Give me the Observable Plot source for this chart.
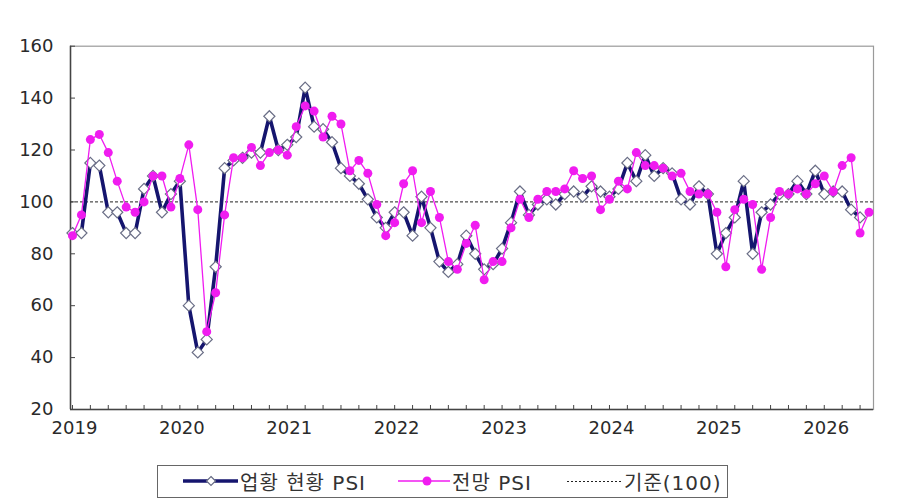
<!DOCTYPE html>
<html><head><meta charset="utf-8">
<script src="https://cdn.jsdelivr.net/npm/d3@7"></script>
<script src="https://cdn.jsdelivr.net/npm/@observablehq/plot@0.6"></script>
<style>
body{margin:0;background:#fff;width:900px;height:501px;overflow:hidden;position:relative;font-family:"DejaVu Sans","Noto Sans CJK KR",sans-serif;}
#legend{position:absolute;left:157px;top:465px;width:571px;height:33px;border:1.5px solid #666;box-sizing:border-box;font-family:"DejaVu Sans","Noto Sans CJK KR",sans-serif;font-size:20px;letter-spacing:1px;color:#333;}
#legend .item{position:absolute;top:0;height:30px;display:flex;align-items:center;white-space:nowrap;}
#legend svg{display:block;margin-right:2px;}
</style></head><body>
<div id="chart"></div>
<div id="legend"></div>
<script>
// Monthly series, starting January 2019
const yearLabels = ["2019","2020","2021","2022","2023","2024","2025","2026"];
const currentPSI = [
  88, 88, 115, 114, 96, 96, 88, 88, 105, 110, 96, 103,
  108, 60, 42, 47, 75, 113, 116, 117, 119, 119, 133, 120,
  122, 125, 144, 129, 128, 123, 113, 110, 107, 101, 94, 90,
  96, 96, 87, 102, 90, 77, 73, 76, 87, 80, 74, 76,
  82, 92, 104, 95, 99, 101, 99, 103, 104, 102, 106, 104,
  102, 105, 115, 108, 118, 110, 113, 111, 101, 99, 106, 103,
  80, 88, 94, 108, 80, 96, 99, 103, 103, 108, 103, 112,
  103, 104, 104, 97, 94
];
const outlookPSI = [
  87, 95, 124, 126, 119, 108, 98, 96, 100, 110, 110, 98,
  109, 122, 97, 50, 65, 95, 117, 117, 121, 114, 119, 120,
  118, 129, 137, 135, 125, 133, 130, 112, 116, 111, 99, 87,
  92, 107, 112, 92, 104, 94, 77, 74, 84, 91, 70, 77,
  77, 90, 101, 94, 101, 104, 104, 105, 112, 109, 110, 97,
  101, 108, 105, 119, 114, 114, 113, 110, 111, 104, 103, 103,
  96, 75, 97, 101, 99, 74, 94, 104, 103, 105, 103, 107,
  110, 104, 114, 117, 88, 96
];
const seriesNames = ["업황 현황 PSI", "전망 PSI", "기준(100)"];
const baseline = 100;
const yTicks = [20, 40, 60, 80, 100, 120, 140, 160];

const colNavy = "#15156e", colMag = "#f01cf0";
const cur = currentPSI.map((v, i) => ({i, v}));
const out = outlookPSI.map((v, i) => ({i, v}));
const yearIdx = yearLabels.map((d, k) => k * 12);
const minorIdx = d3.range(0, 90, 2);

const chart = Plot.plot({
  width: 900, height: 450,
  marginLeft: 70, marginRight: 27, marginTop: 45.7, marginBottom: 41,
  x: {domain: [-0.22, 89.5]},
  y: {domain: [20, 160]},
  style: {fontFamily: "DejaVu Sans, sans-serif", fontSize: "18px", color: "#2a2a2a", background: "white"},
  marks: [
    Plot.frame({stroke: "#9a9a9a", strokeWidth: 1.2}),
    Plot.ruleY([20], {stroke: "#444", strokeWidth: 1.5}),
    Plot.ruleX([-0.22], {stroke: "#444", strokeWidth: 1.5}),
    Plot.ruleY([baseline], {stroke: "#222", strokeWidth: 1, strokeDasharray: "3,2"}),
    Plot.line(cur, {x: "i", y: "v", stroke: colNavy, strokeWidth: 3.6}),
    Plot.dot(cur, {x: "i", y: "v", symbol: "diamond2", r: 5, fill: "white", stroke: "#6a6e86", strokeWidth: 1.2}),
    Plot.line(out, {x: "i", y: "v", stroke: colMag, strokeWidth: 1.3}),
    Plot.dot(out, {x: "i", y: "v", r: 4.5, fill: colMag, stroke: "none"}),
    Plot.axisY({ticks: yTicks, tickSize: -5, tickPadding: 22, stroke: "#444", fill: "#2a2a2a", fontSize: 18, label: null}),
    Plot.axisX({ticks: minorIdx, tickSize: -4, tickPadding: 0, stroke: "#444", tickFormat: () => "", label: null}),
    Plot.axisX({ticks: yearIdx, tickSize: 0, tickPadding: 12, dx: 2, fontSize: 18, fill: "#2a2a2a", tickFormat: (d) => yearLabels[d / 12], label: null})
  ]
});
document.getElementById("chart").appendChild(chart);

// Legend
const lg = document.getElementById("legend");
const items = [
  {left: 25, name: seriesNames[0],
   svg: `<svg width="55" height="14"><line x1="0" y1="7" x2="55" y2="7" stroke="${colNavy}" stroke-width="3.4"/><path d="M28,2.5 L32.5,7 L28,11.5 L23.5,7 Z" fill="white" stroke="#6a6e86" stroke-width="1.2"/></svg>`},
  {left: 240, name: seriesNames[1],
   svg: `<svg width="52" height="14"><line x1="0" y1="7" x2="52" y2="7" stroke="${colMag}" stroke-width="1.3"/><circle cx="29" cy="7" r="4.5" fill="${colMag}"/></svg>`},
  {left: 409, name: seriesNames[2],
   svg: `<svg width="55" height="14"><line x1="0" y1="7.5" x2="55" y2="7.5" stroke="#222" stroke-width="1" stroke-dasharray="2,2"/></svg>`}
];
items.forEach(it => {
  const d = document.createElement("div");
  d.className = "item";
  d.style.left = it.left + "px";
  d.innerHTML = it.svg + `<span>${it.name}</span>`;
  lg.appendChild(d);
});
</script>
</body></html>
